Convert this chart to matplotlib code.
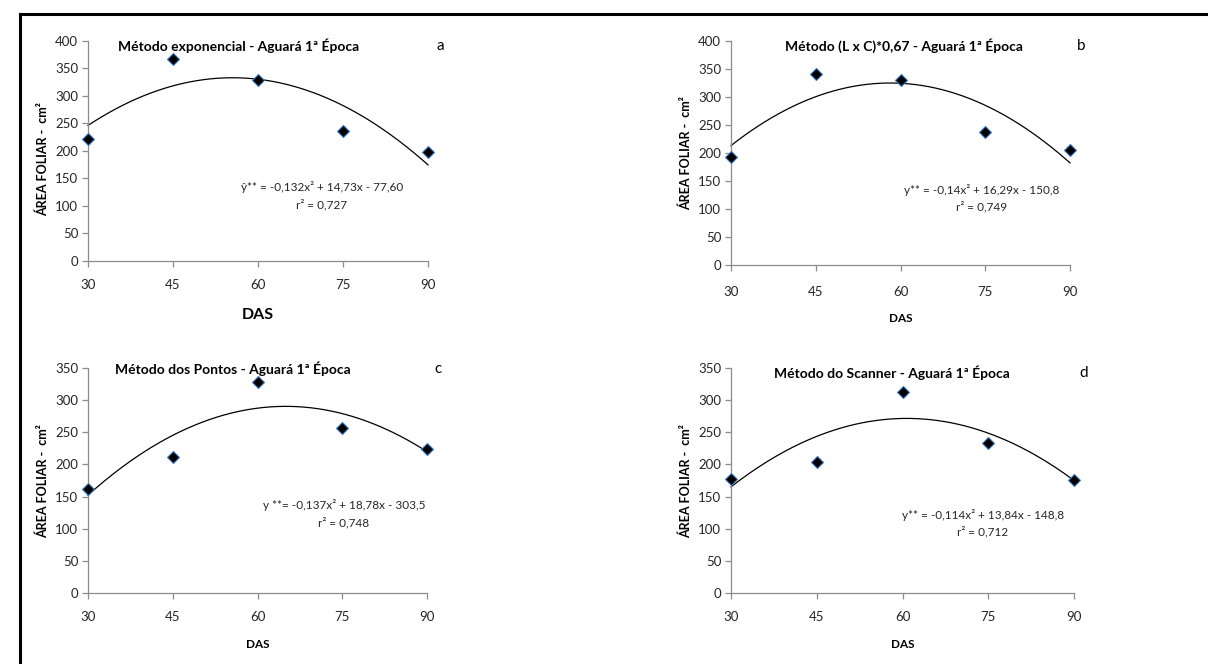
import numpy as np
import matplotlib as mpl
import matplotlib.pyplot as plt
from matplotlib.lines import Line2D

mpl.rcParams.update({
    "font.family": ["Lato", "DejaVu Sans"],
    "axes.edgecolor": "#8c8c8c",
    "axes.linewidth": 0.9,
})

W, H = 1208, 664

das = [30, 45, 60, 75, 90]
af_exponencial = [222, 367, 328, 236, 198]
af_lxc = [192, 340, 330, 237, 205]
af_pontos = [162, 212, 329, 257, 224]
af_scanner = [178, 204, 313, 233, 176]

titulos = ["Método exponencial - Aguará 1ª Época",
           "Método (L x C)*0,67 - Aguará 1ª Época",
           "Método dos Pontos - Aguará 1ª Época",
           "Método do Scanner - Aguará 1ª Época"]
letras = ["a", "b", "c", "d"]
equacoes = ["ŷ** = -0,132x² + 14,73x - 77,60",
            "y** = -0,14x² + 16,29x - 150,8",
            "y **= -0,137x² + 18,78x - 303,5",
            "y** = -0,114x² + 13,84x - 148,8"]
r2 = ["r² = 0,727", "r² = 0,749", "r² = 0,748", "r² = 0,712"]
ymax = [400, 400, 350, 350]

# layout em pixels: (x0, x1, y_topo, y_zero) do eixo, posições dos textos
caixas = [(88, 428, 40.7, 261), (731, 1070, 40.7, 265),
          (88, 427, 368, 593), (731, 1074, 368, 593)]
pos_titulo = [(239, 46), (904, 46), (233, 369), (892, 373)]
pos_letra = [(440, 46), (1081, 46), (438, 369), (1084, 373)]
pos_eq = [(322, 187), (982, 190), (344, 505), (983, 515)]
pos_r2 = [(322, 205), (982, 207), (344, 523), (983, 532)]
pos_das = [(258, 315, 11.5), (901, 319, 8.5), (258, 645, 8.5), (903, 645, 8.5)]
pos_ylab = [(43, 159), (686, 153), (43, 481), (686, 481)]

fig = plt.figure(figsize=(W / 100, H / 100), dpi=100, facecolor="white")


def fx(x):
    return x / W


def fy(y):
    return 1 - y / H


series = [af_exponencial, af_lxc, af_pontos, af_scanner]
for i, vals in enumerate(series):
    x0, x1, yt, y0 = caixas[i]
    ax = fig.add_axes([fx(x0), fy(y0), (x1 - x0) / W, (y0 - yt) / H])
    ax.set_xlim(30, 90)
    ax.set_ylim(0, ymax[i])
    ax.set_xticks(das)
    ax.set_yticks(np.arange(0, ymax[i] + 1, 50))
    for s in ("top", "right"):
        ax.spines[s].set_visible(False)
    ax.tick_params(direction="out", length=4, width=0.9, color="#8c8c8c",
                   labelsize=9.5, labelcolor="#262626", pad=3)
    ax.tick_params(axis="x", pad=9 if i != 1 else 11)

    # curva de tendência polinomial de 2º grau
    coef = np.polyfit(das, vals, 2)
    xs = np.linspace(30, 90, 200)
    ax.plot(xs, np.polyval(coef, xs), color="black", lw=0.9, clip_on=False)
    ax.plot(das, vals, linestyle="none", marker="D", ms=6.5, mfc="black",
            mec="#3a78c2", mew=0.8, clip_on=False, zorder=5)

    fig.text(fx(pos_titulo[i][0]), fy(pos_titulo[i][1]), titulos[i],
             ha="center", va="center", fontsize=10, fontweight="bold")
    fig.text(fx(pos_letra[i][0]), fy(pos_letra[i][1]), letras[i],
             ha="center", va="center", fontsize=11)
    fig.text(fx(pos_eq[i][0]), fy(pos_eq[i][1]), equacoes[i],
             ha="center", va="center", fontsize=8.5, color="#262626")
    fig.text(fx(pos_r2[i][0]), fy(pos_r2[i][1]), r2[i],
             ha="center", va="center", fontsize=8.5, color="#262626")
    dx, dy, dfs = pos_das[i]
    fig.text(fx(dx), fy(dy), "DAS", ha="center", va="center",
             fontsize=dfs, fontweight="bold")
    fig.text(fx(pos_ylab[i][0]), fy(pos_ylab[i][1]), "ÁREA FOLIAR -  cm²",
             ha="center", va="center", rotation=90, fontsize=9,
             fontweight="bold")

# moldura: só linha superior e lateral esquerda
fig.add_artist(Line2D([fx(20), 1], [fy(14), fy(14)], color="black", lw=2.2))
fig.add_artist(Line2D([fx(20), fx(20)], [fy(14), 0], color="black", lw=2.2))

fig.savefig("out.png", dpi=100, facecolor="white")
